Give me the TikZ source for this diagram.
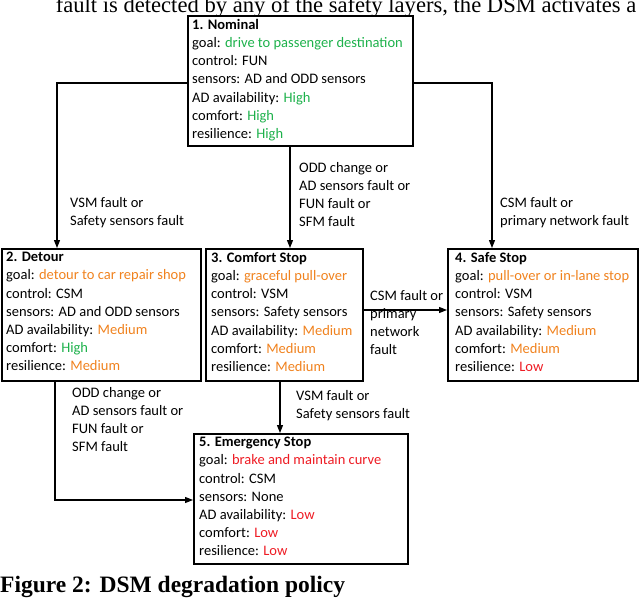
\documentclass[tikz,border=0pt]{standalone}
\usepackage{fontspec}
\setmainfont{Carlito}
\newfontfamily\tms{Liberation Serif}
\usetikzlibrary{arrows.meta}
\definecolor{gg}{HTML}{1DB14B}
\definecolor{oo}{HTML}{F0821E}
\definecolor{rr}{HTML}{EE1C24}
\begin{document}
\begin{tikzpicture}[x=1pt,y=-1pt,
  box/.style={draw,line width=1.5pt,inner sep=0pt,anchor=north west},
  txt/.style={anchor=north west,align=left,inner sep=0pt,font=\fontsize{14.5}{18.2}\selectfont},
  lbl/.style={anchor=north west,align=left,inner sep=0pt,font=\fontsize{14.5}{18.2}\selectfont},
  arr/.style={line width=1.2pt,-{Triangle[length=8pt,width=6pt]}}]
\clip (0,0) rectangle (640,598);
\useasboundingbox (0,0) rectangle (640,598);
\node[anchor=base,inner sep=0pt,font=\tms\fontsize{22.6}{24}\selectfont] (top) at (346,12) {fault is detected by any of the safety layers, the DSM activates a};
\node[box,minimum width=225,minimum height=130] (b1) at (187,15) {};
\node[box,minimum width=199,minimum height=132] (b2) at (1,248) {};
\node[box,minimum width=157,minimum height=132] (b3) at (205,248) {};
\node[box,minimum width=190,minimum height=132] (b4) at (447,248) {};
\node[box,minimum width=214,minimum height=130] (b5) at (193,433) {};
\node[txt] (t1) at (192,19) {\textbf{1. Nominal}\\goal: \textcolor{gg}{drive to passenger destination}\\control: FUN\\sensors: AD and ODD sensors\\AD availability: \textcolor{gg}{High}\\comfort: \textcolor{gg}{High}\\resilience: \textcolor{gg}{High}};
\node[txt] (t2) at (6,252) {\textbf{2. Detour}\\goal: \textcolor{oo}{detour to car repair shop}\\control: CSM\\sensors: AD and ODD sensors\\AD availability: \textcolor{oo}{Medium}\\comfort: \textcolor{gg}{High}\\resilience: \textcolor{oo}{Medium}};
\node[txt] (t3) at (211,252) {\textbf{3. Comfort Stop}\\goal: \textcolor{oo}{graceful pull-over}\\control: VSM\\sensors: Safety sensors\\AD availability: \textcolor{oo}{Medium}\\comfort: \textcolor{oo}{Medium}\\resilience: \textcolor{oo}{Medium}};
\node[txt] (t4) at (455,252) {\textbf{4. Safe Stop}\\goal: \textcolor{oo}{pull-over or in-lane stop}\\control: VSM\\sensors: Safety sensors\\AD availability: \textcolor{oo}{Medium}\\comfort: \textcolor{oo}{Medium}\\resilience: \textcolor{rr}{Low}};
\node[txt] (t5) at (199,437) {\textbf{5. Emergency Stop}\\goal: \textcolor{rr}{brake and maintain curve}\\control: CSM\\sensors: None\\AD availability: \textcolor{rr}{Low}\\comfort: \textcolor{rr}{Low}\\resilience: \textcolor{rr}{Low}};
\coordinate (c1) at (57,83);
\coordinate (c2) at (492,83);
\draw[arr] (b1.west |- c1) -| (b2.north -| c1);
\draw[arr] (b1.east |- c2) -| (b4.north -| c2);
\draw[arr] (b1.south -| 290,0) -- (b3.north -| 290,0);
\draw[arr] (b3.east |- 0,310) -- (b4.west |- 0,310);
\draw[arr] (b3.south -| 280,0) -- (b5.north -| 280,0);
\coordinate (c3) at (55,500);
\draw[arr] (b2.south -| c3) |- (b5.west |- c3);
\node[lbl] (l1) at (70,197) {VSM fault or\\Safety sensors fault};
\node[lbl] (l2) at (299,162) {ODD change or\\AD sensors fault or\\FUN fault or\\SFM fault};
\node[lbl] (l3) at (500,197) {CSM fault or\\primary network fault};
\node[lbl] (l4) at (370,290) {CSM fault or\\primary\\network\\fault};
\node[lbl] (l5) at (296,390) {VSM fault or\\Safety sensors fault};
\node[lbl] (l6) at (72,387) {ODD change or\\AD sensors fault or\\FUN fault or\\SFM fault};
\node[anchor=base west,inner sep=0pt,font=\tms\bfseries\fontsize{23.5}{25}\selectfont] (cap) at (0,592) {Figure 2: DSM degradation policy};
\end{tikzpicture}
\end{document}
